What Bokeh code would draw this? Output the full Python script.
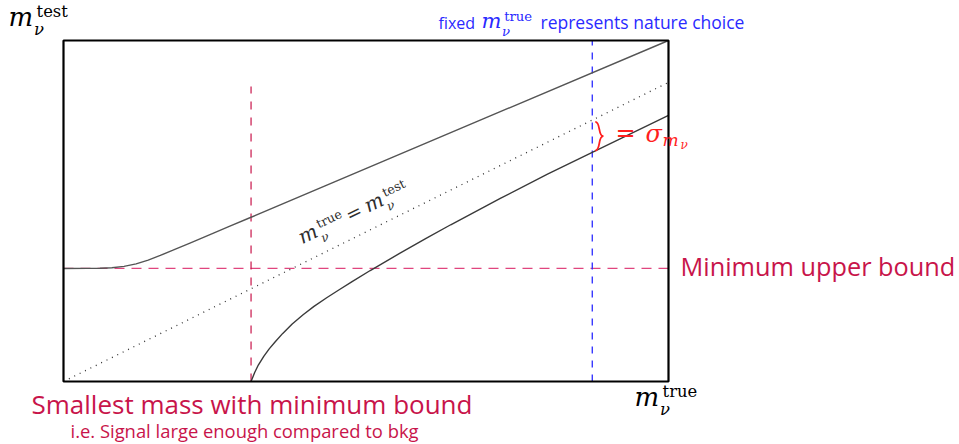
import math

from bokeh.embed import file_html
from bokeh.models import Label, Range1d
from bokeh.plotting import figure
from bokeh.resources import INLINE

# ---- sketch data (arbitrary mass units) ----
X_MAX = 10.0          # right edge of the m_true axis
Y_MAX = 11.4          # top edge of the m_test axis

m_min = 3.1           # smallest true mass that yields a bound
upper_min = 3.78      # minimum upper bound
m_fixed = 8.74        # true mass fixed by nature

# upper edge of the confidence belt
upper_x = [0.0, 0.4, 0.6, 0.8, 1.0, 1.2, 1.4, 1.6, 1.8, 2.1, 2.45, 2.75, 3.1, 10.0]
upper_y = [3.78, 3.783, 3.788, 3.805, 3.847, 3.932, 4.06, 4.214, 4.381, 4.635, 4.934, 5.191, 5.491, 11.4]

# lower edge of the confidence belt
lower_x = [3.10, 3.16, 3.22, 3.31, 3.40, 3.50, 3.62, 3.78, 3.96, 4.14, 4.35, 4.55, 4.77,
           5.07, 5.57, 6.00, 6.40, 7.22, 8.00, 8.74, 10.0]
lower_y = [0.00, 0.30, 0.55, 0.84, 1.09, 1.33, 1.60, 1.92, 2.23, 2.51, 2.80, 3.06, 3.34,
           3.71, 4.30, 4.79, 5.24, 6.12, 6.93, 7.66, 8.90]

# m_true = m_test diagonal
diag_x = [0.0, 10.0]
diag_y = [0.0, 10.0]

# ---- canvas layout ----
W, H = 959, 444
BOX_L, BOX_R, BOX_T, BOX_B = 63, 668, 40, 381   # frame of the sketch, in canvas px
sx = (BOX_R - BOX_L) / X_MAX
sy = (BOX_B - BOX_T) / Y_MAX
LIFT = 0.37   # baseline correction for labels, in em

SERIF = "DejaVu Serif"
SANS = "Open Sans"
CRIMSON = "#c8144a"
PINK = "#e0457e"
BLUE = "#2a2aff"
RED = "#ff1e1e"
INK = "#2e2e2e"

p = figure(
    width=W, height=H,
    x_range=Range1d(-BOX_L / sx, X_MAX + (W - BOX_R) / sx),
    y_range=Range1d(-(H - BOX_B) / sy, Y_MAX + BOX_T / sy),
    x_axis_location=None, y_axis_location=None,
    toolbar_location=None, output_backend="svg", min_border=0,
)
p.grid.visible = False
p.outline_line_color = None
p.background_fill_color = "white"
p.border_fill_color = "white"

# reference lines
p.line([0, X_MAX], [upper_min, upper_min], line_color=PINK, line_width=1.3, line_dash="10 7")
p.line([m_min, m_min], [0, 9.86], line_color=CRIMSON, line_width=1.2, line_dash="8 8")
p.line([m_fixed, m_fixed], [0, Y_MAX], line_color=BLUE, line_width=1.3, line_dash="7 7")
p.line(diag_x, diag_y, line_color="#333333", line_width=1.3, line_dash="1 5")

# belt edges
p.line(upper_x, upper_y, line_color="#555555", line_width=1.4)
p.line(lower_x, lower_y, line_color="#3a3a3a", line_width=1.4)

# brace marking the width sigma at the fixed true mass
sig_lo = lower_y[lower_x.index(m_fixed)]
sig_hi = m_fixed
inset = 0.06
b_x0 = m_fixed + 0.05
b_w = 8 / sx
y_top, y_bot = sig_hi - inset, sig_lo + inset
y_mid = (y_top + y_bot) / 2
p.bezier(
    x0=[b_x0, b_x0], y0=[y_top, y_bot],
    x1=[b_x0 + b_w, b_x0 + b_w], y1=[y_mid, y_mid],
    cx0=[b_x0 + b_w * 0.7, b_x0 + b_w * 0.7], cy0=[y_top, y_bot],
    cx1=[b_x0 + b_w * 0.3, b_x0 + b_w * 0.3], cy1=[y_mid, y_mid],
    line_color=RED, line_width=1.8,
)

# frame
p.quad(left=[0], right=[X_MAX], bottom=[0], top=[Y_MAX],
       fill_color=None, line_color="black", line_width=2.2)


def px2data(px, py):
    return (px - BOX_L) / sx, (BOX_B - py) / sy


def along(px, py, angle, a, b):
    """Point a px along a baseline rotated by angle, lifted b px above it."""
    c, s = math.cos(math.radians(angle)), math.sin(math.radians(angle))
    return px + a * c - b * s, py - a * s - b * c


def put(text, px, py, size, color, font, style="normal", angle=0.0, align="left"):
    x, y = px2data(*along(px, py, angle, 0, LIFT * size))
    p.add_layout(Label(
        x=x, y=y, text=text, text_font_size=f"{size:.1f}px", text_color=color,
        text_font=font, text_font_style=style, angle=angle, angle_units="deg",
        text_align=align, text_baseline="alphabetic",
    ))


def m_nu(sup, px, py, size, color, angle=0.0):
    """Draws m with a subscript nu and a superscript label."""
    put("m", px, py, size, color, SERIF, "italic", angle)
    put("\u03bd", *along(px, py, angle, 0.98 * size, -0.36 * size), 0.63 * size, color, SERIF, "italic", angle)
    put(sup, *along(px, py, angle, 1.08 * size, 0.36 * size), 0.63 * size, color, SERIF, "normal", angle)


# axis titles
m_nu("test", 8, 26, 26, "black")
m_nu("true", 634, 406, 26, "black")

# note above the fixed true mass
put("fixed", 438, 28, 16, BLUE, SANS)
m_nu("true", 481, 28, 21, BLUE)
put("represents nature choice", 540, 28, 17.5, BLUE, SANS)

# label along the diagonal
ANG = 25.5
ox, oy = 302, 244
m_nu("true", ox, oy, 20, INK, ANG)
put("=", *along(ox, oy, ANG, 52, 0), 19, INK, SERIF, "normal", ANG)
m_nu("test", *along(ox, oy, ANG, 73, 0), 20, INK, ANG)

# sigma annotation next to the brace
put("=", 615, 141.5, 24, RED, SERIF)
put("\u03c3", 645, 142, 24, RED, SERIF, "italic")
put("m", 662, 146, 17, RED, SERIF, "italic")
put("\u03bd", 680, 149, 12, RED, SERIF, "italic")

# bound annotations
put("Minimum upper bound", 680, 275, 25.3, CRIMSON, SANS)
put("Smallest mass with minimum bound", 31, 413, 26, CRIMSON, SANS)
put("i.e. Signal large enough compared to bkg", 70, 437, 18.4, CRIMSON, SANS)

open("out.html", "w").write(file_html(p, INLINE))
